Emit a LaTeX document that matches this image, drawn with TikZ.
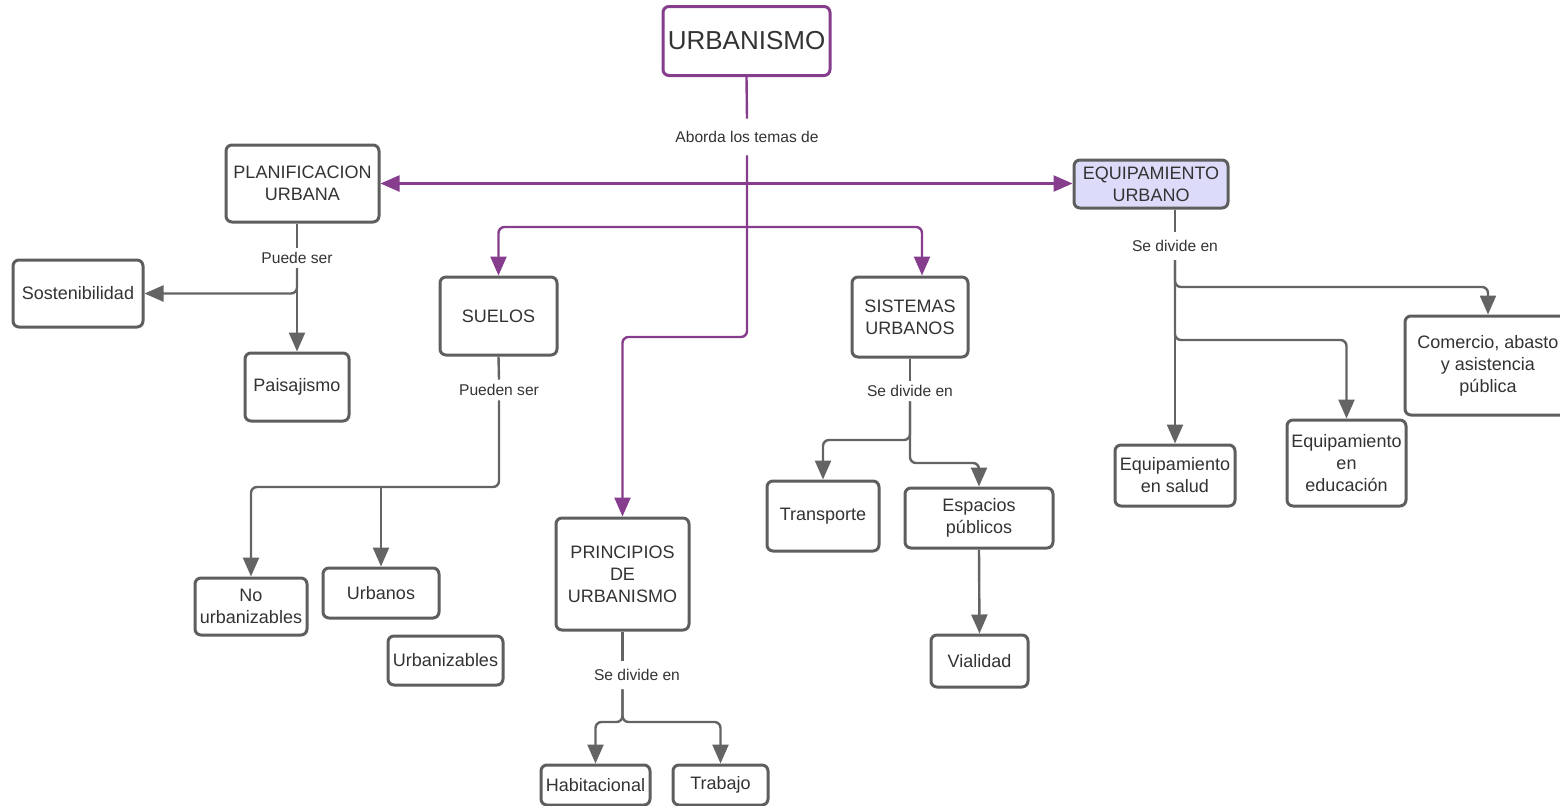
\documentclass[tikz,border=0pt]{standalone}
\usepackage{fontspec}
\setmainfont{Liberation Sans}
\usetikzlibrary{arrows.meta}
\definecolor{purp}{HTML}{863D8E}
\definecolor{bord}{HTML}{5E5E5E}
\definecolor{txt}{HTML}{333333}
\definecolor{conn}{HTML}{646464}
\definecolor{lav}{HTML}{DCDCFA}
\begin{document}
\begin{tikzpicture}[x=0.5pt,y=-0.5pt,
 box/.style={draw=bord, line width=1.5pt, rounded corners=3pt, fill=white, text=txt, inner sep=0pt, align=center, font=\fontsize{9}{11}\selectfont},
 lbl/.style={text=txt, inner sep=0pt, minimum height=10pt, font=\fontsize{7.8}{9}\selectfont},
 gconn/.style={draw=conn, line width=1.2pt, rounded corners=3pt},
 pconn/.style={draw=purp, line width=1.2pt, rounded corners=3pt},
 arr/.style={-{Triangle[length=9.5pt,width=8pt]}},
 dblarr/.style={{Triangle[length=9.5pt,width=8pt]}-{Triangle[length=9.5pt,width=8pt]}},
]
\useasboundingbox (0,0) rectangle (1560,805);
% boxes
\node[box, draw=purp, minimum width=83.5pt, minimum height=34.5pt, font=\fontsize{13}{15}\selectfont] (urb) at (746.5,41) {URBANISMO};
\node[box, minimum width=76.5pt, minimum height=38.5pt] (plan) at (302.5,183.5) {PLANIFICACION\\URBANA};
\node[box, fill=lav, minimum width=77pt, minimum height=24pt] (equip) at (1151,184) {EQUIPAMIENTO\\URBANO};
\node[box, minimum width=65pt, minimum height=33.5pt] (sost) at (78,293.5) {Sostenibilidad};
\node[box, minimum width=52pt, minimum height=34pt] (pais) at (297,387) {Paisajismo};
\node[box, minimum width=58.5pt, minimum height=39pt, text depth=0pt] (suelos) at (498.5,316) {SUELOS};
\node[box, minimum width=58pt, minimum height=40pt] (sist) at (910,317) {SISTEMAS\\URBANOS};
\node[box, minimum width=66.5pt, minimum height=56pt] (princ) at (622.5,574) {PRINCIPIOS\\DE\\URBANISMO};
\node[box, minimum width=56pt, minimum height=28.5pt] (nourb) at (251,606.5) {No\\urbanizables};
\node[box, minimum width=58pt, minimum height=25pt] (urbanos) at (381,593) {Urbanos};
\node[box, minimum width=57.5pt, minimum height=24.5pt] (urbzb) at (445.5,660.5) {Urbanizables};
\node[box, minimum width=54.5pt, minimum height=20pt] (habit) at (595.5,785) {Habitacional};
\node[box, minimum width=47.5pt, minimum height=20pt] (trab) at (720.5,785) {Trabajo};
\node[box, minimum width=56pt, minimum height=35pt] (transp) at (823,516) {Transporte};
\node[box, minimum width=74pt, minimum height=30pt] (esp) at (979,518) {Espacios\\públicos};
\node[box, minimum width=48.5pt, minimum height=26pt] (vial) at (979.5,661) {Vialidad};
\node[box, minimum width=60pt, minimum height=30.5pt] (salud) at (1175,475.5) {Equipamiento\\en salud};
\node[box, minimum width=59.5pt, minimum height=43pt] (educ) at (1346.5,463) {Equipamiento\\en\\educación};
\node[box, minimum width=83pt, minimum height=49.5pt] (comer) at (1488,365.5) {Comercio, abasto\\y asistencia\\pública};
% labels
\node[lbl, minimum height=18pt] (abord) at (747,137) {Aborda los temas de};
\node[lbl] (puede) at (297,258) {Puede ser};
\node[lbl] (pueden) at (499,390) {Pueden ser};
\node[lbl, minimum height=14pt] (sd1) at (637,675) {Se divide en};
\node[lbl] (sd2) at (910,391) {Se divide en};
\node[lbl, minimum height=14pt] (sd3) at (1175,246) {Se divide en};
% purple connectors
\draw[pconn] (urb.south) -- (abord.north);
\draw[pconn, dblarr] (plan.east) -- (plan.east -| equip.west);
\draw[pconn, arr] (abord.south) -- (747,337) -| (princ.north);
\coordinate (pj) at (747,227);
\draw[pconn, arr] (pj) -| (suelos.north);
\draw[pconn, arr] (pj) -| ([xshift=6pt]sist.north);
% gray connectors
\draw[gconn] (plan.south -| puede.north) -- (puede.north);
\draw[gconn, arr] (puede.south) -- (pais.north);
\draw[gconn, arr] (puede.south) |- (sost.east);
\draw[gconn] (suelos.south) -- (pueden.north);
\coordinate (sj) at (499,487);
\draw[gconn, arr] (pueden.south) -- (sj) -| (nourb.north);
\draw[gconn, arr] (sj -| urbanos.north) -- (urbanos.north);
\draw[gconn] (princ.south) -- (princ.south |- sd1.north);
\coordinate (pj2) at (622.5,722);
\draw[gconn, arr] (sd1.south -| princ.south) -- (pj2) -| (habit.north);
\draw[gconn, arr] (sd1.south -| princ.south) -- (pj2) -| (trab.north);
\draw[gconn] (sist.south) -- (sd2.north);
\coordinate (sj2) at (910,440);
\draw[gconn, arr] (sd2.south) -- (sj2) -| (transp.north);
\draw[gconn, arr] (sd2.south) -- (sj2) |- (979,463) -- (esp.north);
\draw[gconn, arr] (esp.south) -- (vial.north);
\draw[gconn] (equip.south -| sd3.north) -- (sd3.north);
\draw[gconn, arr] (sd3.south) -- (salud.north);
\draw[gconn, arr] (sd3.south) -- (1175,287) -| (comer.north);
\draw[gconn, arr] (sd3.south) -- (1175,340) -| (educ.north);
\end{tikzpicture}
\end{document}
